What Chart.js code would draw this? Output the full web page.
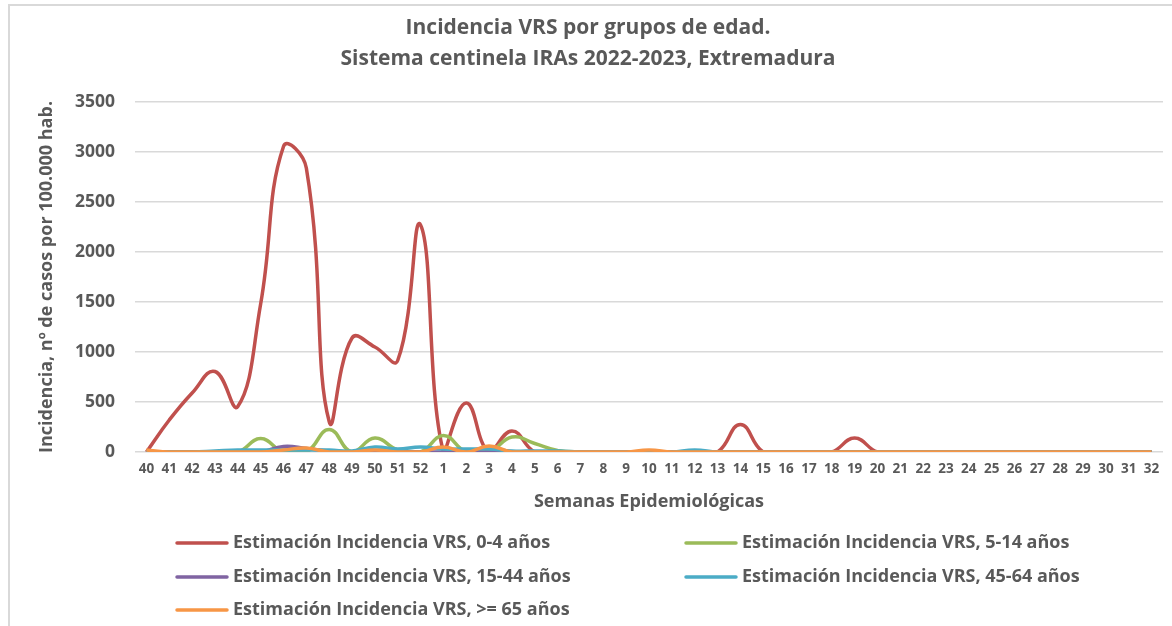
<!DOCTYPE html>
<html lang="es">
<head>
<meta charset="utf-8">
<title>Incidencia VRS por grupos de edad</title>
<script src="https://cdn.jsdelivr.net/npm/chart.js"></script>
<style>
  html, body { margin: 0; padding: 0; background: #fff; overflow: hidden; }
  #frame {
    position: absolute; left: 8px; top: 4px; width: 1180px; height: 640px;
    border-left: 2px solid #d9d9d9; border-top: 2px solid #d9d9d9;
  }
  #wrap { position: absolute; left: 0; top: 0; width: 1172px; height: 626px; }
</style>
</head>
<body>
<div id="frame"></div>
<div id="wrap"><canvas id="chart" width="1172" height="626"></canvas></div>
<script>
// Semanas epidemiológicas 40/2022 - 32/2023
const semanas = [40, 41, 42, 43, 44, 45, 46, 47, 48, 49, 50, 51, 52,
  1, 2, 3, 4, 5, 6, 7, 8, 9, 10, 11, 12, 13, 14, 15, 16, 17, 18, 19, 20,
  21, 22, 23, 24, 25, 26, 27, 28, 29, 30, 31, 32];

// Incidencia por 100.000 hab. (valores estimados del gráfico)
const edad0a4 = [0, 320, 590, 805, 455, 1480, 3055, 2840, 305, 1140, 1050, 915, 2270,
  0, 490, 0, 210, 0, 0, 0, 0, 0, 0, 0, 0, 0, 275, 0, 0, 0, 0, 140, 0,
  0, 0, 0, 0, 0, 0, 0, 0, 0, 0, 0, 0];
const edad5a14 = [0, 0, 0, 0, 0, 135, 0, 0, 225, 0, 140, 20, 0,
  165, 0, 0, 150, 85, 15, 0, 0, 0, 0, 0, 0, 0, 0, 0, 0, 0, 0, 0, 0,
  0, 0, 0, 0, 0, 0, 0, 0, 0, 0, 0, 0];
const edad15a44 = [0, 0, 0, 0, 0, 0, 55, 35, 10, 0, 0, 0, 0,
  0, 0, 0, 0, 0, 0, 0, 0, 0, 0, 0, 0, 0, 0, 0, 0, 0, 0, 0, 0,
  0, 0, 0, 0, 0, 0, 0, 0, 0, 0, 0, 0];
const edad45a64 = [0, 0, 0, 10, 20, 20, 20, 20, 20, 10, 50, 30, 50,
  30, 30, 30, 10, 10, 10, 0, 0, 0, 0, 0, 20, 0, 0, 0, 0, 0, 0, 0, 0,
  0, 0, 0, 0, 0, 0, 0, 0, 0, 0, 0, 0];
const edad65mas = [20, 0, 0, 0, 0, 0, 20, 40, 0, 0, 20, 0, 0,
  50, 0, 60, 0, 0, 0, 0, 0, 0, 20, 0, 0, 0, 0, 0, 0, 0, 0, 0, 0,
  0, 0, 0, 0, 0, 0, 0, 0, 0, 0, 0, 0];

const yTicks = [0, 500, 1000, 1500, 2000, 2500, 3000, 3500];

const TEXT = '#595959';
const FONT = '"Open Sans", Lato, sans-serif';

const series = [
  { label: 'Estimación Incidencia VRS, 0-4 años', data: edad0a4, color: '#c0504d', order: 5 },
  { label: 'Estimación Incidencia VRS, 5-14 años', data: edad5a14, color: '#9bbb59', order: 4 },
  { label: 'Estimación Incidencia VRS, 15-44 años', data: edad15a44, color: '#8064a2', order: 3 },
  { label: 'Estimación Incidencia VRS, 45-64 años', data: edad45a64, color: '#4bacc6', order: 2 },
  { label: 'Estimación Incidencia VRS, >= 65 años', data: edad65mas, color: '#f79646', order: 1 }
];

// Título y leyenda dibujados a mano (la leyenda va en dos columnas)
const customText = {
  id: 'customText',
  afterDraw(chart) {
    const ctx = chart.ctx;
    ctx.save();
    ctx.fillStyle = TEXT;
    ctx.textAlign = 'center';
    ctx.textBaseline = 'middle';
    ctx.font = 'bold 21px ' + FONT;
    ctx.fillText('Incidencia VRS por grupos de edad.', 588, 28);
    ctx.fillText('Sistema centinela IRAs 2022-2023, Extremadura', 588, 59);

    const cols = [177, 686];
    const rows = [543, 577, 610];
    ctx.textAlign = 'left';
    ctx.font = 'bold 18px ' + FONT;
    series.forEach((s, i) => {
      const x = cols[i % 2];
      const y = rows[Math.floor(i / 2)];
      ctx.strokeStyle = s.color;
      ctx.lineWidth = 3.5;
      ctx.lineCap = 'round';
      ctx.beginPath();
      ctx.moveTo(x, y);
      ctx.lineTo(x + 50, y);
      ctx.stroke();
      ctx.fillText(s.label, x + 56, y);
    });
    ctx.restore();
  }
};

new Chart(document.getElementById('chart'), {
  type: 'line',
  data: {
    labels: semanas,
    datasets: series.map((s) => ({
      label: s.label,
      data: s.data,
      borderColor: s.color,
      backgroundColor: s.color,
      borderWidth: 3.5,
      pointRadius: 0,
      tension: 0.45,
      fill: false,
      order: s.order
    }))
  },
  options: {
    responsive: false,
    animation: false,
    layout: { padding: { top: 102, right: 9, bottom: 110, left: 0 } },
    plugins: {
      legend: { display: false },
      title: { display: false },
      tooltip: { enabled: false }
    },
    scales: {
      x: {
        offset: true,
        grid: { display: false, drawTicks: false },
        border: { display: false },
        ticks: {
          color: TEXT,
          font: { family: FONT, size: 13.5, weight: 'bold' },
          padding: 9,
          maxRotation: 0,
          autoSkip: false
        },
        title: {
          display: true,
          text: 'Semanas Epidemiológicas',
          color: TEXT,
          font: { family: FONT, size: 18, weight: 'bold' },
          padding: { top: 0, bottom: 3 }
        },
        afterFit(scale) { scale.height = 64; }
      },
      y: {
        min: 0,
        max: 3500,
        afterBuildTicks(scale) { scale.ticks = yTicks.map((v) => ({ value: v })); },
        grid: { color: '#d9d9d9', lineWidth: 1.5, drawTicks: false },
        border: { display: false },
        ticks: {
          color: TEXT,
          font: { family: FONT, size: 17.5, weight: 'bold' },
          padding: 20,
          callback: (v) => String(v)
        },
        title: {
          display: true,
          text: 'Incidencia, nº de casos por 100.000 hab.',
          color: TEXT,
          font: { family: FONT, size: 18, weight: 'bold' },
          padding: { top: 36, bottom: 0 }
        },
        afterFit(scale) { scale.width = 135; }
      }
    }
  },
  plugins: [customText]
});
</script>
</body>
</html>
